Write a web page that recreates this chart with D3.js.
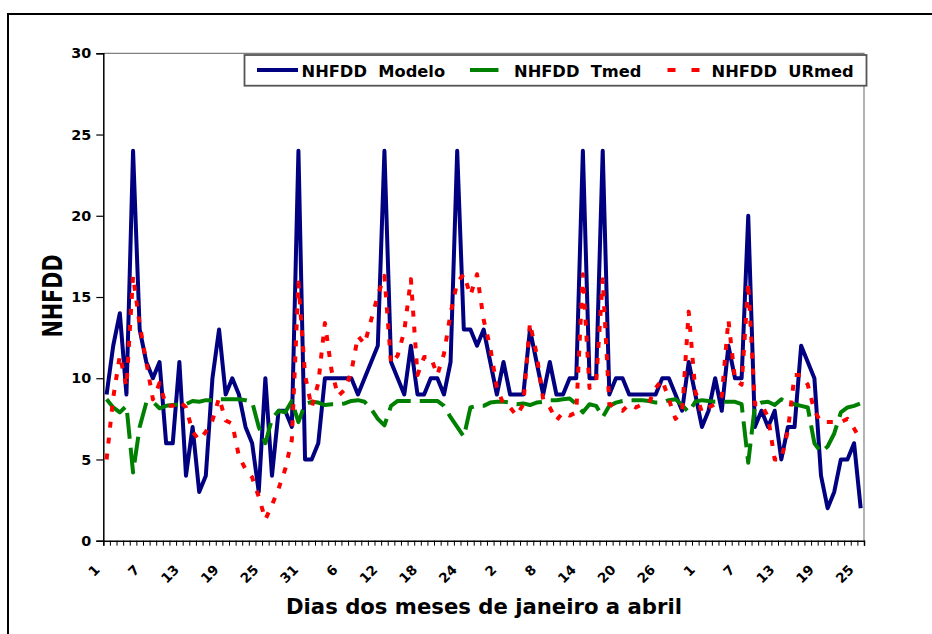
<!DOCTYPE html>
<html>
<head>
<meta charset="utf-8">
<script src="https://cdn.jsdelivr.net/npm/d3@7"></script>
<style>
  html, body { margin: 0; padding: 0; background: #fff; }
  svg { display: block; font-family: "DejaVu Sans", "Liberation Sans", sans-serif; font-weight: bold; }
  .pre { white-space: pre; }
</style>
</head>
<body>
<svg id="chart" width="932" height="634"></svg>
<script>
// Days covered: 1 January to 25 April
const monthLengths = [31, 28, 31, 25];
const days = monthLengths.flatMap(n => d3.range(1, n + 1));

// Labelled days (every sixth day)
const tickLabels = ["1", "7", "13", "19", "25", "31", "6", "12", "18", "24",
                    "2", "8", "14", "20", "26", "1", "7", "13", "19", "25"];
const yTicks = [0, 5, 10, 15, 20, 25, 30];

// NHFDD Modelo
const modelo = [
  9, 12, 14, 9, 24, 13, 11, 10, 11, 6,
  6, 11, 4, 7, 3, 4, 10, 13, 9, 10,
  9, 7, 6, 3, 10, 4, 8, 8, 7, 24,
  5, 5, 6, 10, 10, 10, 10, 10, 9, 10,
  11, 12, 24, 11, 10, 9, 12, 9, 9, 10,
  10, 9, 11, 24, 13, 13, 12, 13, 11, 9,
  11, 9, 9, 9, 13, 11, 9, 11, 9, 9,
  10, 10, 24, 10, 10, 24, 9, 10, 10, 9,
  9, 9, 9, 9, 10, 10, 9, 8, 11, 9,
  7, 8, 10, 8, 12, 10, 10, 20, 7, 8,
  7, 8, 5, 7, 7, 12, 11, 10, 4, 2,
  3, 5, 5, 6, 2
];

// NHFDD Tmed
const tmed = [
  8.7, 8.2, 7.9, 8.3, 4.2, 7.0, 8.5, 8.55, 8.15, 8.3,
  8.35, 8.4, 8.4, 8.6, 8.55, 8.65, 8.65, 8.7, 8.7, 8.7,
  8.7, 8.65, 8.55, 7.0, 6.0, 7.5, 8.0, 7.9, 8.6, 7.3,
  8.4, 8.55, 8.5, 8.35, 8.4, 8.4, 8.45, 8.6, 8.65, 8.55,
  8.1, 7.5, 7.1, 8.3, 8.6, 8.6, 8.6, 8.6, 8.6, 8.6,
  8.6, 8.3, 7.6, 7.0, 6.4, 8.2, 8.3, 8.3, 8.5, 8.55,
  8.55, 8.5, 8.4, 8.45, 8.35, 8.5, 8.55, 8.65, 8.65, 8.7,
  8.75, 8.4, 7.9, 8.4, 8.3, 7.6, 8.3, 8.5, 8.6, 8.65,
  8.65, 8.65, 8.6, 8.5, 8.5, 8.65, 8.7, 8.35, 7.9, 8.55,
  8.65, 8.6, 8.55, 8.55, 8.55, 8.55, 8.4, 4.8, 8.3, 8.5,
  8.55, 8.35, 8.7, 8.5, 8.4, 8.3, 8.2, 6.0, 5.45, 5.8,
  6.6, 7.9, 8.2, 8.3, 8.45
];

// NHFDD URmed
const urmed = [
  5.0, 8.8, 11.4, 9.5, 16.3, 13.3, 11.0, 8.7, 9.7, 8.3,
  8.3, 8.6, 8.2, 6.7, 6.2, 6.7, 7.4, 8.8, 7.4, 7.2,
  5.2, 4.4, 3.9, 2.7, 1.3, 2.2, 3.2, 4.4, 6.2, 15.9,
  10.2, 8.2, 9.7, 13.4, 10.5, 8.9, 9.3, 10.4, 12.6, 12.1,
  13.6, 15.1, 16.3, 10.9, 11.4, 12.9, 16.1, 10.2, 11.3, 11.3,
  10.2, 11.5, 14.0, 15.9, 16.4, 15.1, 16.4, 13.6, 11.9, 9.4,
  8.4, 8.2, 7.7, 8.4, 13.4, 11.5, 8.7, 8.2, 7.4, 7.9,
  7.7, 7.9, 16.4, 9.4, 9.7, 16.1, 8.4, 8.2, 8.0, 8.4,
  8.2, 8.4, 8.5, 9.4, 9.9, 8.7, 7.5, 7.9, 14.1, 9.2,
  7.9, 8.2, 8.4, 8.9, 13.6, 9.9, 9.6, 15.9, 8.4, 8.4,
  7.6, 5.0, 5.0, 6.8, 10.2, 10.2, 9.6, 8.0, 7.3, 7.3,
  7.3, 7.3, 7.5, 6.9, 6.2
];

const series = [
  { name: "NHFDD  Modelo", values: modelo, color: "#000080", dash: null },
  { name: "NHFDD  Tmed",   values: tmed,   color: "#008000", dash: "26,9" },
  { name: "NHFDD  URmed",  values: urmed,  color: "#FF0000", dash: "6,10" }
];

const svg = d3.select("#chart");
const plot = { left: 103.3, top: 53.3, right: 864, bottom: 540.7 };

// outer chart frame (runs off the right and bottom edges)
svg.append("rect")
  .attr("x", 8).attr("y", 14).attr("width", 1000).attr("height", 1000)
  .attr("fill", "none").attr("stroke", "#000").attr("stroke-width", 2);

const x = d3.scaleBand().domain(d3.range(days.length)).range([plot.left, plot.right]).padding(0);
const xEdge = d3.scaleLinear().domain([0, days.length]).range([plot.left, plot.right]);
const y = d3.scaleLinear().domain([0, 30]).range([plot.bottom, plot.top]);
const cx = i => x(i) + x.bandwidth() / 2;

// plot area border (top and right)
svg.append("path")
  .attr("d", `M${plot.left},${plot.top}H${plot.right}V${plot.bottom}`)
  .attr("fill", "none").attr("stroke", "#808080").attr("stroke-width", 1.2);

// y axis
const yAxis = svg.append("g")
  .attr("transform", `translate(${plot.left},0)`)
  .call(d3.axisLeft(y).tickValues(yTicks).tickSize(7).tickPadding(5).tickFormat(d3.format("d")));
yAxis.select(".domain").attr("stroke", "#000").attr("stroke-width", 1.5);
yAxis.selectAll(".tick line").attr("stroke", "#000").attr("stroke-width", 1.2);
yAxis.selectAll("text").attr("font-size", 14.4).attr("font-family", "DejaVu Sans").attr("font-weight", "bold").attr("fill", "#000");

// x axis: tick marks at each category boundary
const xAxis = svg.append("g")
  .attr("transform", `translate(0,${plot.bottom})`)
  .call(d3.axisBottom(xEdge).tickValues(d3.range(0, days.length + 1)).tickSize(5).tickFormat(""));
xAxis.select(".domain").attr("stroke", "#000").attr("stroke-width", 1.5);
xAxis.selectAll(".tick line").attr("stroke", "#000").attr("stroke-width", 1);

// x axis labels, rotated
const labelIdx = d3.range(0, days.length, 6);
svg.append("g").selectAll("text")
  .data(labelIdx)
  .join("text")
  .attr("transform", (d) => `translate(${cx(d) - 6},${plot.bottom + 30}) rotate(-45)`)
  .attr("text-anchor", "end")
  .attr("font-size", 13.5)
  .attr("fill", "#000")
  .text((d, k) => tickLabels[k]);

// axis titles
svg.append("text")
  .attr("x", 484).attr("y", 614)
  .attr("text-anchor", "middle")
  .attr("font-size", 21.2)
  .attr("fill", "#000")
  .text("Dias dos meses de janeiro a abril");

svg.append("text")
  .attr("transform", "translate(62,296) scale(1.3,1) rotate(-90)")
  .attr("text-anchor", "middle")
  .attr("font-size", 20.7)
  .attr("fill", "#000")
  .text("NHFDD");

// series lines
const line = d3.line().x((d, i) => cx(i)).y(d => y(d));
svg.append("g").selectAll("path")
  .data(series)
  .join("path")
  .attr("d", s => line(s.values))
  .attr("fill", "none")
  .attr("stroke", s => s.color)
  .attr("stroke-width", 4)
  .attr("stroke-linejoin", "round")
  .attr("stroke-dasharray", s => s.dash);

// legend
const legend = svg.append("g");
legend.append("rect")
  .attr("x", 244.5).attr("y", 55).attr("width", 622).attr("height", 30.7)
  .attr("fill", "#fff").attr("stroke", "#555").attr("stroke-width", 1.8);
const legendItems = [
  { s: series[0], x0: 257, x1: 298, tx: 301.5, dash: null },
  { s: series[1], x0: 470, x1: 498.5, tx: 514, dash: null },
  { s: series[2], x0: 667.5, x1: 700, tx: 711.5, dash: "8,16" }
];
legendItems.forEach(it => {
  legend.append("line")
    .attr("x1", it.x0).attr("x2", it.x1).attr("y1", 70).attr("y2", 70)
    .attr("stroke", it.s.color).attr("stroke-width", 4)
    .attr("stroke-dasharray", it.dash);
  legend.append("text")
    .attr("class", "pre")
    .attr("x", it.tx).attr("y", 76.5)
    .attr("font-size", 16.3)
    .attr("fill", "#000")
    .text(it.s.name);
});
</script>
</body>
</html>
